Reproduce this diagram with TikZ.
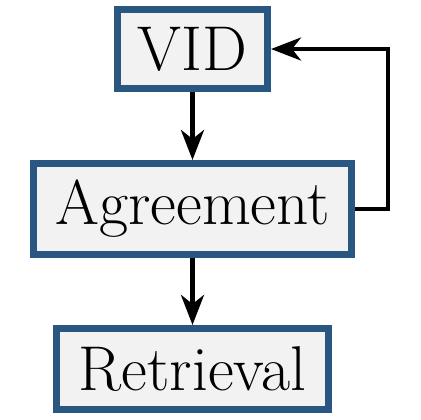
\documentclass[tikz,border=0pt]{standalone}
\usepackage{tikz}
\usetikzlibrary{arrows.meta}
\definecolor{boxblue}{RGB}{42,86,130}
\definecolor{boxfill}{RGB}{242,242,242}

\begin{document}
\begin{tikzpicture}[x=0.01cm, y=-0.01cm,
	stagebox/.style={draw=boxblue, fill=boxfill, line width=0.07cm, inner sep=0pt, font=\fontsize{18}{22}\selectfont},
	flow/.style={-{Stealth[length=0.3cm, width=0.23cm, inset=0.09cm]}, line width=0.042cm}]

		% Column and row positions
		\def\xM{192.5}
		\def\xR{388}
		\def\yone{49}
		\def\ytwo{209}
		\def\ythree{369}

		\useasboundingbox (0,0) rectangle (420,420);

		% --- Boxes ---
		\node[stagebox, minimum width=1.50cm, minimum height=0.79cm] (vid) at (\xM, \yone) {VID};
		\node[stagebox, minimum width=3.18cm, minimum height=0.91cm] (agree) at (\xM, \ytwo) {Agreement};
		\node[stagebox, minimum width=2.72cm, minimum height=0.81cm] (retr) at (\xM, \ythree) {Retrieval};

		% --- Arrows ---
		\draw[flow] (vid) -- (agree);
		\draw[flow] (agree) -- (retr);
		% feedback loop
		\coordinate (loop) at (\xR, \ytwo);
		\draw[flow] (agree.east) -- (loop) |- (vid.east);

\end{tikzpicture}
\end{document}
